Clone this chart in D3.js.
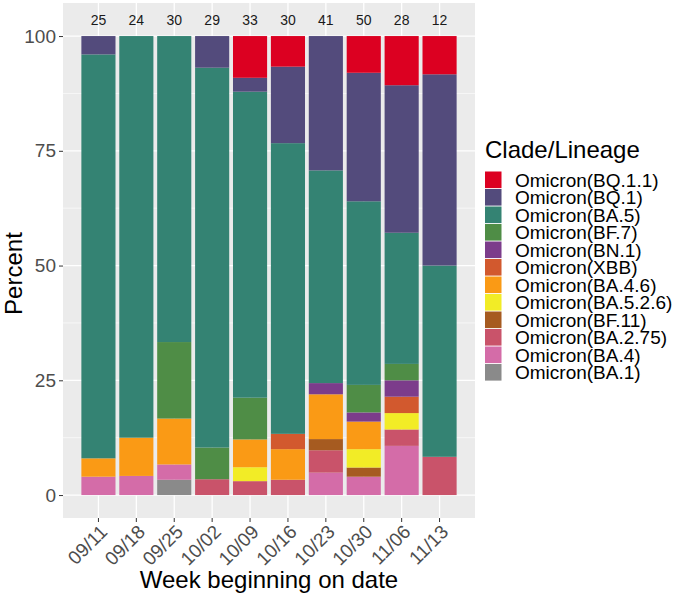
<!DOCTYPE html>
<html>
<head>
<meta charset="utf-8">
<script src="https://cdn.jsdelivr.net/npm/d3@7"></script>
<style>
  body { margin: 0; background: #fff; }
  svg { display: block; font-family: "Liberation Sans", Arial, sans-serif; }
</style>
</head>
<body>
<script>
// week labels along the x axis
var weeks = ["09/11", "09/18", "09/25", "10/02", "10/09", "10/16", "10/23", "10/30", "11/06", "11/13"];

// sequence counts per lineage per week
var countBQ11  = [0, 0, 0, 0, 3, 2, 0, 4, 3, 1];
var countBQ1   = [1, 0, 0, 2, 1, 5, 12, 14, 9, 5];
var countBA5   = [22, 21, 20, 24, 22, 19, 19, 20, 8, 5];
var countBF7   = [0, 0, 5, 2, 3, 0, 0, 3, 1, 0];
var countBN1   = [0, 0, 0, 0, 0, 0, 1, 1, 1, 0];
var countXBB   = [0, 0, 0, 0, 0, 1, 0, 0, 1, 0];
var countBA46  = [1, 2, 3, 0, 2, 2, 4, 3, 0, 0];
var countBA526 = [0, 0, 0, 0, 1, 0, 0, 2, 1, 0];
var countBF11  = [0, 0, 0, 0, 0, 0, 1, 1, 0, 0];
var countBA275 = [0, 0, 0, 1, 1, 1, 2, 0, 1, 1];
var countBA4   = [1, 1, 1, 0, 0, 0, 2, 2, 3, 0];
var countBA1   = [0, 0, 1, 0, 0, 0, 0, 0, 0, 0];

// legend order (top of stack first)
var lineages = ["Omicron(BQ.1.1)", "Omicron(BQ.1)", "Omicron(BA.5)", "Omicron(BF.7)", "Omicron(BN.1)",
  "Omicron(XBB)", "Omicron(BA.4.6)", "Omicron(BA.5.2.6)", "Omicron(BF.11)", "Omicron(BA.2.75)",
  "Omicron(BA.4)", "Omicron(BA.1)"];
var lineageCounts = [countBQ11, countBQ1, countBA5, countBF7, countBN1, countXBB,
  countBA46, countBA526, countBF11, countBA275, countBA4, countBA1];
var lineageColors = ["#DC0021", "#534B7C", "#348373", "#4F8D46", "#7C3C8B", "#D2592E",
  "#FA9A15", "#F2EC26", "#A65B20", "#C9536A", "#D46CA8", "#8A8A8A"];

var yTicks = [0, 25, 50, 75, 100];
var yMinor = [12.5, 37.5, 62.5, 87.5];

var W = 680, H = 596;
var panel = { left: 63, right: 475, top: 3, bottom: 518 };

// build the table the stack layout wants: one row per week, percent per lineage
var totals = weeks.map(function (w, i) {
  return d3.sum(lineageCounts, function (c) { return c[i]; });
});
var table = weeks.map(function (w, i) {
  var row = { week: w };
  lineages.forEach(function (l, j) {
    row[l] = lineageCounts[j][i] / totals[i] * 100;
  });
  return row;
});

var stackKeys = lineages.slice().reverse(); // bottom of the bar first
var series = d3.stack().keys(stackKeys)(table);

var color = d3.scaleOrdinal().domain(lineages).range(lineageColors);

var x = d3.scaleBand()
  .domain(weeks)
  .range([panel.left, panel.right])
  .paddingInner(0.1)
  .paddingOuter(0.485);

var y = d3.scaleLinear()
  .domain([-5, 107.2])
  .range([panel.bottom, panel.top]);

var svg = d3.select("body").append("svg")
  .attr("width", W)
  .attr("height", H);

// panel background
svg.append("rect")
  .attr("x", panel.left)
  .attr("y", panel.top)
  .attr("width", panel.right - panel.left)
  .attr("height", panel.bottom - panel.top)
  .attr("fill", "#EBEBEB");

// grid
svg.append("g").selectAll("line").data(yMinor).enter().append("line")
  .attr("x1", panel.left).attr("x2", panel.right)
  .attr("y1", function (d) { return y(d); })
  .attr("y2", function (d) { return y(d); })
  .attr("stroke", "#fff").attr("stroke-width", 0.6);

svg.append("g").selectAll("line").data(yTicks).enter().append("line")
  .attr("x1", panel.left).attr("x2", panel.right)
  .attr("y1", function (d) { return y(d); })
  .attr("y2", function (d) { return y(d); })
  .attr("stroke", "#fff").attr("stroke-width", 1.3);

svg.append("g").selectAll("line").data(weeks).enter().append("line")
  .attr("x1", function (d) { return x(d) + x.bandwidth() / 2; })
  .attr("x2", function (d) { return x(d) + x.bandwidth() / 2; })
  .attr("y1", panel.top).attr("y2", panel.bottom)
  .attr("stroke", "#fff").attr("stroke-width", 1.3);

// stacked bars
svg.append("g").selectAll("g")
  .data(series)
  .enter().append("g")
  .attr("fill", function (d) { return color(d.key); })
  .selectAll("rect")
  .data(function (d) { return d; })
  .enter().append("rect")
  .attr("x", function (d) { return x(d.data.week); })
  .attr("width", x.bandwidth())
  .attr("y", function (d) { return y(d[1]); })
  .attr("height", function (d) { return y(d[0]) - y(d[1]); });

// sample counts above bars
svg.append("g").selectAll("text")
  .data(weeks)
  .enter().append("text")
  .attr("x", function (d) { return x(d) + x.bandwidth() / 2; })
  .attr("y", 25)
  .attr("text-anchor", "middle")
  .attr("font-size", 14)
  .attr("fill", "#1a1a1a")
  .text(function (d, i) { return totals[i]; });

// y axis
var yAxis = svg.append("g")
  .attr("transform", "translate(" + panel.left + ",0)")
  .call(d3.axisLeft(y).tickValues(yTicks).tickSize(4).tickPadding(3));
yAxis.select(".domain").remove();
yAxis.selectAll(".tick line").attr("stroke", "#333");
yAxis.selectAll(".tick text")
  .attr("font-size", 19)
  .attr("font-family", "Liberation Sans, Arial, sans-serif")
  .attr("fill", "#4D4D4D");

// x axis
var xAxis = svg.append("g")
  .attr("transform", "translate(0," + panel.bottom + ")")
  .call(d3.axisBottom(x).tickSize(4).tickPadding(3));
xAxis.select(".domain").remove();
xAxis.selectAll(".tick line").attr("stroke", "#333");
xAxis.selectAll(".tick text")
  .attr("font-size", 19)
  .attr("font-family", "Liberation Sans, Arial, sans-serif")
  .attr("fill", "#4D4D4D")
  .attr("text-anchor", "end")
  .attr("dy", null)
  .attr("y", 0)
  .attr("transform", "translate(10,15) rotate(-45)");

// axis titles
svg.append("text")
  .attr("transform", "translate(22," + ((y(0) + y(100)) / 2 + 8) + ") rotate(-90)")
  .attr("text-anchor", "middle")
  .attr("font-size", 24)
  .text("Percent");

svg.append("text")
  .attr("x", (panel.left + panel.right) / 2)
  .attr("y", 588)
  .attr("text-anchor", "middle")
  .attr("font-size", 24)
  .text("Week beginning on date");

// legend
var legend = svg.append("g").attr("transform", "translate(485,0)");
legend.append("text")
  .attr("x", 0)
  .attr("y", 158)
  .attr("font-size", 24)
  .text("Clade/Lineage");

var items = legend.selectAll("g.item")
  .data(lineages)
  .enter().append("g")
  .attr("class", "item")
  .attr("transform", function (d, i) { return "translate(0," + (171.5 + i * 17.5) + ")"; });
items.append("rect")
  .attr("width", 16.5)
  .attr("height", 16.6)
  .attr("fill", function (d) { return color(d); });
items.append("text")
  .attr("x", 30)
  .attr("y", 8.5)
  .attr("dy", "0.36em")
  .attr("font-size", 19)
  .text(function (d) { return d; });
</script>
</body>
</html>
